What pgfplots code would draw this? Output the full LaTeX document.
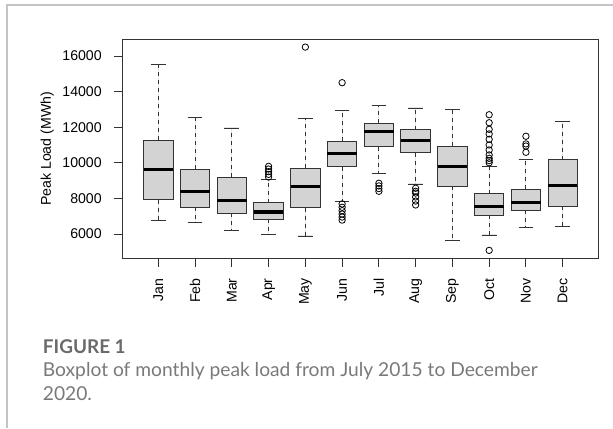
\documentclass[border=0pt]{standalone}
\usepackage{pgfplots}
\pgfplotsset{compat=1.18}
\usepgfplotslibrary{statistics}
\usepackage{fontspec}
\setmainfont{Liberation Sans}
\newfontfamily\capfont{Lato}
\definecolor{boxfill}{HTML}{D3D3D3}
\definecolor{capgray}{HTML}{6A6A6A}
\definecolor{framegray}{HTML}{C4C4C4}
\pgfplotsset{bx/.style={draw=black!80, line width=0.7pt, fill=boxfill, mark=o, mark size=2.4pt, mark options={draw=black, fill=none, line width=0.6pt, solid}}}
\begin{document}
\begin{tikzpicture}
\begin{axis}[
  at={(91.725pt,126.975pt)}, anchor=south west,
  scale only axis, width=357.3pt, height=164.55pt,
  xmin=0.02, xmax=12.98, ymin=4612, ymax=16938,
  xtick={1,2,3,4,5,6,7,8,9,10,11,12},
  xticklabels={Jan,Feb,Mar,Apr,May,Jun,Jul,Aug,Sep,Oct,Nov,Dec},
  ytick={6000,8000,10000,12000,14000,16000},
  scaled y ticks=false,
  /pgf/number format/assume math mode=true,
  /pgf/number format/1000 sep={},
  tick pos=left, tick align=outside, major tick length=6pt,
  tick style={black!80, line width=0.7pt},
  axis line style={black!80, line width=0.8pt},
  tick label style={font=\fontsize{10.6}{12}\selectfont, inner sep=0pt, outer sep=0pt},
  yticklabel style={anchor=east, outer xsep=9.45pt},
  xticklabel style={rotate=90, anchor=east, outer xsep=8.7pt},
  ylabel={Peak Load (MWh)},
  every axis y label/.style={at={(axis description cs:-0.1574,0.5)}, rotate=90, anchor=center, font=\fontsize{10.6}{12}\selectfont},
  boxplot/draw direction=y,
  boxplot/box extend=0.8,
  boxplot/whisker extend=0.4,
  boxplot/every median/.style={line width=2.3pt, black},
  boxplot/draw/lower whisker/.code={
    \draw[black!80, line width=0.7pt, dash pattern=on 3pt off 3pt]
      (boxplot box cs:\pgfplotsboxplotvalue{lower quartile},0.5) -- (boxplot box cs:\pgfplotsboxplotvalue{lower whisker},0.5);
    \draw[black!80, line width=0.7pt]
      (boxplot whisker cs:\pgfplotsboxplotvalue{lower whisker},0) -- (boxplot whisker cs:\pgfplotsboxplotvalue{lower whisker},1);
  },
  boxplot/draw/upper whisker/.code={
    \draw[black!80, line width=0.7pt, dash pattern=on 3pt off 3pt]
      (boxplot box cs:\pgfplotsboxplotvalue{upper quartile},0.5) -- (boxplot box cs:\pgfplotsboxplotvalue{upper whisker},0.5);
    \draw[black!80, line width=0.7pt]
      (boxplot whisker cs:\pgfplotsboxplotvalue{upper whisker},0) -- (boxplot whisker cs:\pgfplotsboxplotvalue{upper whisker},1);
  },
]
% Jan
\addplot[bx, boxplot prepared={draw position=1, lower whisker=6750, lower quartile=7930, median=9640, upper quartile=11280, upper whisker=15510}] coordinates {};
% Feb
\addplot[bx, boxplot prepared={draw position=2, lower whisker=6635, lower quartile=7517, median=8376, upper quartile=9635, upper whisker=12556}] coordinates {};
% Mar
\addplot[bx, boxplot prepared={draw position=3, lower whisker=6185, lower quartile=7163, median=7871, upper quartile=9185, upper whisker=11955}] coordinates {};
% Apr
\addplot[bx, boxplot prepared={draw position=4, lower whisker=5960, lower quartile=6843, median=7236, upper quartile=7758, upper whisker=9073}] table[row sep=\\, y index=0] {data\\ 9200\\ 9350\\ 9500\\ 9650\\ 9800\\};
% May
\addplot[bx, boxplot prepared={draw position=5, lower whisker=5888, lower quartile=7478, median=8657, upper quartile=9708, upper whisker=12478}] table[row sep=\\, y index=0] {data\\ 16500\\};
% Jun
\addplot[bx, boxplot prepared={draw position=6, lower whisker=7837, lower quartile=9781, median=10534, upper quartile=11208, upper whisker=12927}] table[row sep=\\, y index=0] {data\\ 14500\\ 7690\\ 7500\\ 7310\\ 7120\\ 6950\\ 6780\\};
% Jul
\addplot[bx, boxplot prepared={draw position=7, lower whisker=9388, lower quartile=10904, median=11747, upper quartile=12236, upper whisker=13230}] table[row sep=\\, y index=0] {data\\ 8850\\ 8700\\ 8550\\ 8400\\};
% Aug
\addplot[bx, boxplot prepared={draw position=8, lower whisker=8809, lower quartile=10567, median=11242, upper quartile=11860, upper whisker=13079}] table[row sep=\\, y index=0] {data\\ 8570\\ 8400\\ 8300\\ 8080\\ 7850\\ 7630\\};
% Sep
\addplot[bx, boxplot prepared={draw position=9, lower whisker=5624, lower quartile=8697, median=9781, upper quartile=10944, upper whisker=13006}] coordinates {};
% Oct
\addplot[bx, boxplot prepared={draw position=10, lower whisker=5944, lower quartile=7067, median=7534, upper quartile=8264, upper whisker=9781}] table[row sep=\\, y index=0] {data\\ 12700\\ 12250\\ 11880\\ 11620\\ 11320\\ 11000\\ 10720\\ 10440\\ 10250\\ 10120\\ 10000\\ 5080\\};
% Nov
\addplot[bx, boxplot prepared={draw position=11, lower whisker=6354, lower quartile=7331, median=7758, upper quartile=8528, upper whisker=10194}] table[row sep=\\, y index=0] {data\\ 11490\\ 11060\\ 10940\\ 10590\\};
% Dec
\addplot[bx, boxplot prepared={draw position=12, lower whisker=6410, lower quartile=7573, median=8713, upper quartile=10174, upper whisker=12331}] coordinates {};
\end{axis}
\draw[framegray, line width=0.9pt] (5.25pt,0pt) -- (5.25pt,317.25pt) -- (459.75pt,317.25pt);
\node[anchor=base west, inner sep=0pt, text=capgray, font=\capfont\bfseries\fontsize{14.2}{16}\selectfont] at (32pt,56pt) {FIGURE 1};
\node[anchor=base west, inner sep=0pt, text=capgray!90, font=\capfont\fontsize{14.4}{16}\selectfont] at (32pt,38.5pt) {Boxplot of monthly peak load from July 2015 to December};
\node[anchor=base west, inner sep=0pt, text=capgray!90, font=\capfont\fontsize{14.4}{16}\selectfont] at (32pt,21pt) {2020.};
\pgfresetboundingbox
\path[use as bounding box] (0,0) rectangle (459.75pt,321pt);
\end{tikzpicture}
\end{document}
